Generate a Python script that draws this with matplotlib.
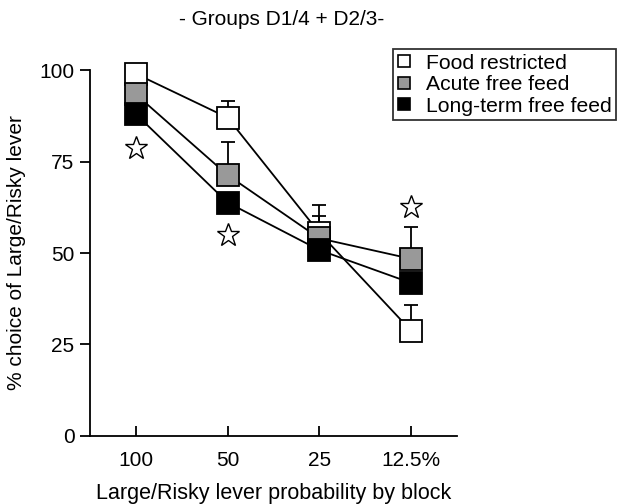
import matplotlib
matplotlib.use("Agg")
import matplotlib.pyplot as plt
from matplotlib.lines import Line2D

plt.rcParams['font.family'] = ['Liberation Sans', 'DejaVu Sans']

# blocks on the x axis
blocks = ["100", "50", "25", "12.5%"]

# mean % choice of large/risky lever
food_restricted = [99, 87, 55.5, 28.7]
acute_free = [93.4, 71.3, 54, 48.4]
longterm_free = [88, 63.8, 50.8, 41.8]

# upward SEM only
food_err = [1, 4.5, 7.5, 7]
acute_err = [1, 9, 6.2, 8.7]
longterm_err = [1, 1, 5, 1]

# significance stars (block index, y)
star_x = [0, 1, 3]
star_y = [78.7, 55, 62.5]

fig = plt.figure(figsize=(6.28, 5.04), dpi=100)
ax = fig.add_axes([0.143, 0.135, 0.585, 0.726])

x = list(range(len(blocks)))
series = [
    (food_restricted, food_err, "white", "Food restricted"),
    (acute_free, acute_err, "#999999", "Acute free feed"),
    (longterm_free, longterm_err, "black", "Long-term free feed"),
]

# error bars first (drawn behind everything)
for vals, err, col, lab in series:
    ax.errorbar(x, vals, yerr=[[0] * len(err), err], fmt="none", ecolor="black",
                elinewidth=1.3, capsize=5, capthick=1.3, zorder=1, clip_on=False)

# lines
for vals, err, col, lab in series:
    ax.plot(x, vals, color="black", lw=1.3, zorder=2, clip_on=False)

# markers: white at the bottom, grey, then black on top
for z, (vals, err, col, lab) in zip([3, 4, 5], series):
    ax.plot(x, vals, ls="none", marker="s", ms=15.5, mfc=col, mec="black",
            mew=1.3, zorder=z, clip_on=False)

ax.plot(star_x, star_y, ls="none", marker="*", ms=17, mfc="white",
        mec="black", mew=1.0, clip_on=False, zorder=6)

ax.set_xlim(-0.5, 3.5)
ax.set_ylim(0, 100)
ax.set_xticks(x)
ax.set_xticklabels(blocks)
ax.set_yticks([0, 25, 50, 75, 100])
ax.spines['top'].set_visible(False)
ax.spines['right'].set_visible(False)
ax.spines['left'].set_linewidth(1.3)
ax.spines['bottom'].set_linewidth(1.3)
ax.spines['left'].set_bounds(0, 100)
ax.tick_params(axis='x', direction='in', length=7, width=1.3, labelsize=15, pad=11)
ax.tick_params(axis='y', direction='out', length=7, width=1.3, labelsize=15, pad=4)

ax.set_xlabel("Large/Risky lever probability by block", fontsize=15.5, labelpad=9)
ax.set_ylabel("% choice of Large/Risky lever", fontsize=15, labelpad=10)

fig.text(0.449, 0.962, "- Groups D1/4 + D2/3-", ha="center", va="center", fontsize=15)

handles = [Line2D([], [], ls="none", marker="s", ms=8, mfc=c, mec="black", mew=1.2)
           for _, _, c, _ in series]
labels = [s[3] for s in series]
leg = fig.legend(handles, labels, loc="upper left", bbox_to_anchor=(0.626, 0.902),
                 fontsize=15.2, frameon=True, fancybox=False, edgecolor="black",
                 handlelength=0.65, handletextpad=0.7, borderpad=0.2,
                 labelspacing=0.12, borderaxespad=0)
leg.get_frame().set_linewidth(1.3)

fig.savefig("out.png", dpi=100)
